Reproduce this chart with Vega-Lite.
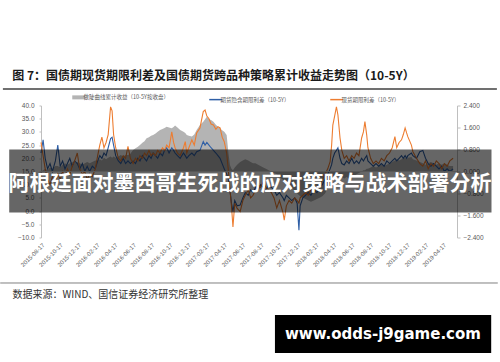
{
  "$schema": "https://vega.github.io/schema/vega-lite/v6.json",
  "width": 416,
  "height": 132,
  "autosize": {"type": "none"},
  "padding": {"left": 41, "top": 105.5, "right": 43, "bottom": 124.5},
  "background": "#ffffff",
  "config": {
    "view": {"stroke": null},
    "axis": {"labelFont": "Liberation Sans", "labelColor": "#595959", "labelFontSize": 6.5, "domainColor": "#bfbfbf", "tickColor": "#bfbfbf", "grid": false, "title": null}
  },
  "data": {"values": [
    {"d":"2015-08-17","a":0.00,"b":22,"o":26},
    {"d":"2015-08-24","a":0.05,"b":27,"o":21},
    {"d":"2015-08-31","a":0.10,"b":20,"o":16},
    {"d":"2015-09-08","a":0.05,"b":16,"o":12},
    {"d":"2015-09-16","a":0.15,"b":18,"o":10},
    {"d":"2015-09-24","a":0.10,"b":15,"o":13},
    {"d":"2015-10-04","a":0.20,"b":19,"o":11},
    {"d":"2015-10-12","a":0.20,"b":25,"o":14},
    {"d":"2015-10-20","a":0.15,"b":17,"o":12},
    {"d":"2015-10-28","a":0.25,"b":19,"o":15},
    {"d":"2015-11-05","a":0.30,"b":16,"o":13},
    {"d":"2015-11-13","a":0.25,"b":18,"o":16},
    {"d":"2015-11-21","a":0.30,"b":20,"o":14},
    {"d":"2015-11-29","a":0.35,"b":17,"o":17},
    {"d":"2015-12-07","a":0.30,"b":19,"o":19},
    {"d":"2015-12-16","a":0.35,"b":18,"o":22},
    {"d":"2015-12-24","a":0.30,"b":16,"o":16},
    {"d":"2016-01-02","a":0.25,"b":18,"o":14},
    {"d":"2016-01-10","a":0.30,"b":15,"o":15},
    {"d":"2016-01-18","a":0.35,"b":17,"o":12},
    {"d":"2016-01-26","a":0.30,"b":15,"o":14},
    {"d":"2016-02-04","a":0.35,"b":17,"o":13},
    {"d":"2016-02-14","a":0.40,"b":16,"o":16},
    {"d":"2016-02-22","a":0.40,"b":19,"o":21},
    {"d":"2016-02-29","a":0.45,"b":21,"o":25},
    {"d":"2016-03-07","a":0.40,"b":20,"o":28},
    {"d":"2016-03-14","a":0.50,"b":22,"o":24},
    {"d":"2016-03-21","a":0.45,"b":21,"o":26},
    {"d":"2016-03-28","a":0.50,"b":24,"o":29},
    {"d":"2016-04-05","a":0.55,"b":27.5,"o":39.5},
    {"d":"2016-04-10","a":0.50,"b":28,"o":38},
    {"d":"2016-04-15","a":0.55,"b":25,"o":29},
    {"d":"2016-04-22","a":0.50,"b":21,"o":24},
    {"d":"2016-05-01","a":0.55,"b":19,"o":20},
    {"d":"2016-05-09","a":0.60,"b":18,"o":19},
    {"d":"2016-05-17","a":0.55,"b":20,"o":21},
    {"d":"2016-05-25","a":0.60,"b":18,"o":20},
    {"d":"2016-06-02","a":0.60,"b":19,"o":24.5},
    {"d":"2016-06-10","a":0.65,"b":18,"o":20},
    {"d":"2016-06-19","a":0.78,"b":19,"o":18},
    {"d":"2016-06-27","a":0.85,"b":18,"o":20},
    {"d":"2016-07-05","a":0.90,"b":20,"o":19},
    {"d":"2016-07-12","a":0.96,"b":19,"o":21},
    {"d":"2016-07-20","a":1.05,"b":21,"o":20},
    {"d":"2016-07-27","a":1.10,"b":20,"o":22},
    {"d":"2016-08-03","a":1.21,"b":19,"o":21},
    {"d":"2016-08-11","a":1.25,"b":21,"o":23},
    {"d":"2016-08-18","a":1.30,"b":20,"o":21},
    {"d":"2016-08-25","a":1.33,"b":22,"o":22},
    {"d":"2016-09-02","a":1.38,"b":21,"o":21},
    {"d":"2016-09-09","a":1.45,"b":20,"o":23},
    {"d":"2016-09-17","a":1.51,"b":22,"o":22},
    {"d":"2016-09-25","a":1.55,"b":21,"o":24},
    {"d":"2016-10-02","a":1.58,"b":23,"o":23},
    {"d":"2016-10-09","a":1.63,"b":24,"o":25},
    {"d":"2016-10-17","a":1.60,"b":22,"o":24},
    {"d":"2016-10-26","a":1.57,"b":24,"o":30},
    {"d":"2016-11-01","a":1.62,"b":23,"o":26},
    {"d":"2016-11-06","a":1.67,"b":22,"o":24},
    {"d":"2016-11-14","a":1.60,"b":21,"o":22},
    {"d":"2016-11-23","a":1.51,"b":20,"o":21},
    {"d":"2016-12-04","a":1.45,"b":22,"o":24},
    {"d":"2016-12-10","a":1.40,"b":21,"o":26.3},
    {"d":"2016-12-15","a":1.33,"b":20,"o":22},
    {"d":"2016-12-22","a":1.30,"b":21,"o":24},
    {"d":"2017-01-01","a":1.27,"b":22,"o":27},
    {"d":"2017-01-09","a":1.35,"b":21,"o":25},
    {"d":"2017-01-17","a":1.51,"b":22.5,"o":29.6},
    {"d":"2017-01-28","a":1.69,"b":23,"o":31.5},
    {"d":"2017-02-08","a":1.81,"b":26.3,"o":37.7},
    {"d":"2017-02-14","a":1.90,"b":25,"o":38.3},
    {"d":"2017-02-20","a":1.99,"b":26,"o":36},
    {"d":"2017-02-27","a":1.90,"b":25,"o":35},
    {"d":"2017-03-06","a":1.87,"b":24,"o":33},
    {"d":"2017-03-14","a":1.81,"b":23,"o":32.6},
    {"d":"2017-03-22","a":1.70,"b":22,"o":31},
    {"d":"2017-03-29","a":1.63,"b":21,"o":32},
    {"d":"2017-04-05","a":1.57,"b":20,"o":31.5},
    {"d":"2017-04-12","a":1.50,"b":18,"o":28},
    {"d":"2017-04-19","a":1.45,"b":16,"o":26.3},
    {"d":"2017-04-27","a":1.33,"b":14,"o":22},
    {"d":"2017-05-03","a":0.66,"b":12,"o":15},
    {"d":"2017-05-08","a":0.24,"b":8,"o":8},
    {"d":"2017-05-13","a":0.10,"b":3,"o":2},
    {"d":"2017-05-18","a":0.05,"b":-0.2,"o":-6},
    {"d":"2017-05-24","a":0.15,"b":4,"o":3},
    {"d":"2017-06-01","a":0.25,"b":2,"o":1},
    {"d":"2017-06-11","a":0.35,"b":2.3,"o":-0.2},
    {"d":"2017-06-20","a":0.40,"b":5,"o":4},
    {"d":"2017-06-28","a":0.45,"b":7,"o":6},
    {"d":"2017-07-08","a":0.40,"b":6,"o":8},
    {"d":"2017-07-16","a":0.35,"b":8,"o":5},
    {"d":"2017-07-24","a":0.30,"b":7,"o":6},
    {"d":"2017-08-01","a":0.30,"b":9,"o":8},
    {"d":"2017-08-10","a":0.25,"b":8,"o":10},
    {"d":"2017-08-18","a":0.20,"b":10,"o":9},
    {"d":"2017-08-27","a":0.15,"b":9,"o":11},
    {"d":"2017-09-05","a":0.10,"b":8,"o":9},
    {"d":"2017-09-14","a":0.05,"b":10,"o":8},
    {"d":"2017-09-23","a":0.00,"b":9,"o":7},
    {"d":"2017-10-02","a":-0.05,"b":8,"o":5},
    {"d":"2017-10-11","a":-0.10,"b":6,"o":1.2},
    {"d":"2017-10-20","a":-0.20,"b":7,"o":4},
    {"d":"2017-11-01","a":-0.30,"b":5,"o":-0.7},
    {"d":"2017-11-05","a":-0.35,"b":4,"o":-3.4},
    {"d":"2017-11-12","a":-0.40,"b":6,"o":2},
    {"d":"2017-11-21","a":-0.50,"b":5,"o":4},
    {"d":"2017-11-30","a":-0.60,"b":4,"o":3},
    {"d":"2017-12-10","a":-0.70,"b":5,"o":5},
    {"d":"2017-12-18","a":-0.80,"b":3,"o":4},
    {"d":"2017-12-24","a":-0.85,"b":-7.2,"o":3},
    {"d":"2017-12-28","a":-0.90,"b":2,"o":5},
    {"d":"2018-01-06","a":-0.95,"b":5,"o":6},
    {"d":"2018-01-15","a":-1.00,"b":6,"o":7},
    {"d":"2018-01-24","a":-1.05,"b":7,"o":6},
    {"d":"2018-02-02","a":-1.10,"b":6,"o":8},
    {"d":"2018-02-12","a":-1.05,"b":8,"o":7},
    {"d":"2018-02-22","a":-1.00,"b":7,"o":9},
    {"d":"2018-03-03","a":-0.95,"b":9,"o":10},
    {"d":"2018-03-12","a":-0.90,"b":10,"o":12},
    {"d":"2018-03-21","a":-0.80,"b":12,"o":14},
    {"d":"2018-03-30","a":-0.60,"b":14,"o":16},
    {"d":"2018-04-07","a":-0.40,"b":16,"o":18.7},
    {"d":"2018-04-12","a":-0.30,"b":17.6,"o":25},
    {"d":"2018-04-16","a":-0.20,"b":20,"o":32.6},
    {"d":"2018-04-22","a":-0.15,"b":22,"o":36},
    {"d":"2018-04-28","a":-0.10,"b":23,"o":39.5},
    {"d":"2018-05-03","a":-0.10,"b":24,"o":36.4},
    {"d":"2018-05-10","a":-0.15,"b":20,"o":27.7},
    {"d":"2018-05-16","a":-0.20,"b":18,"o":23},
    {"d":"2018-05-24","a":-0.25,"b":17.5,"o":20},
    {"d":"2018-06-01","a":-0.20,"b":19,"o":21},
    {"d":"2018-06-09","a":-0.25,"b":18,"o":19},
    {"d":"2018-06-18","a":-0.20,"b":20,"o":21},
    {"d":"2018-06-26","a":-0.15,"b":18,"o":20},
    {"d":"2018-07-04","a":-0.10,"b":19,"o":22},
    {"d":"2018-07-12","a":-0.05,"b":18,"o":21},
    {"d":"2018-07-21","a":0.00,"b":20,"o":27.7},
    {"d":"2018-07-27","a":0.05,"b":19,"o":30},
    {"d":"2018-08-01","a":0.05,"b":20,"o":33.9},
    {"d":"2018-08-07","a":0.10,"b":21,"o":28.8},
    {"d":"2018-08-11","a":0.10,"b":19,"o":24},
    {"d":"2018-08-20","a":0.15,"b":18,"o":20},
    {"d":"2018-08-29","a":0.20,"b":17,"o":18},
    {"d":"2018-09-07","a":0.15,"b":18,"o":19},
    {"d":"2018-09-16","a":0.20,"b":17,"o":18},
    {"d":"2018-09-25","a":0.25,"b":18,"o":20},
    {"d":"2018-10-04","a":0.20,"b":17,"o":19},
    {"d":"2018-10-13","a":0.25,"b":19,"o":21},
    {"d":"2018-10-22","a":0.30,"b":18,"o":22},
    {"d":"2018-10-31","a":0.35,"b":19,"o":24},
    {"d":"2018-11-09","a":0.40,"b":20,"o":28.2},
    {"d":"2018-11-15","a":0.45,"b":19,"o":24},
    {"d":"2018-11-23","a":0.40,"b":20,"o":26},
    {"d":"2018-12-01","a":0.45,"b":21,"o":27},
    {"d":"2018-12-07","a":0.50,"b":20,"o":29},
    {"d":"2018-12-13","a":0.50,"b":21,"o":31.5},
    {"d":"2018-12-18","a":0.45,"b":20,"o":29.6},
    {"d":"2018-12-22","a":0.50,"b":21,"o":28.2},
    {"d":"2019-01-03","a":0.53,"b":22,"o":25},
    {"d":"2019-01-08","a":0.45,"b":21,"o":22.5},
    {"d":"2019-01-20","a":0.40,"b":20,"o":20},
    {"d":"2019-01-31","a":0.35,"b":22.5,"o":18},
    {"d":"2019-02-10","a":0.30,"b":23,"o":17},
    {"d":"2019-02-19","a":0.25,"b":20,"o":19},
    {"d":"2019-02-28","a":0.30,"b":18,"o":16},
    {"d":"2019-03-09","a":0.35,"b":17,"o":18},
    {"d":"2019-03-18","a":0.30,"b":18,"o":17},
    {"d":"2019-03-27","a":0.25,"b":17,"o":19},
    {"d":"2019-04-05","a":0.30,"b":16,"o":18},
    {"d":"2019-04-14","a":0.25,"b":17,"o":16},
    {"d":"2019-04-23","a":0.30,"b":15,"o":18},
    {"d":"2019-05-02","a":0.25,"b":16,"o":17},
    {"d":"2019-05-11","a":0.20,"b":15,"o":19},
    {"d":"2019-05-22","a":0.20,"b":16,"o":20}
  ]},
  "layer": [
    {"mark": {"type": "area", "color": "#b4b4b4", "opacity": 1},
     "encoding": {
       "x": {"field": "d", "type": "temporal", "axis": null,
             "scale": {"type": "utc", "domain": [{"year": 2015, "month": 8, "date": 17, "utc": true}, {"year": 2019, "month": 6, "date": 4, "utc": true}]}},
       "y": {"field": "a", "type": "quantitative",
             "scale": {"domain": [-2.4, 2.4], "nice": false, "zero": false},
             "axis": {"orient": "right", "values": [-2.4, -1.6, -0.8, 0, 0.8, 1.6, 2.4], "format": ".3f", "tickSize": 3, "labelPadding": 3, "labelOverlap": false}},
       "y2": {"datum": 0}
     }},
    {"transform": [{"fold": ["b", "o"], "as": ["s", "v"]}],
     "mark": {"type": "line", "strokeWidth": 1.1},
     "encoding": {
       "x": {"field": "d", "type": "temporal",
             "scale": {"type": "utc", "domain": [{"year": 2015, "month": 8, "date": 17, "utc": true}, {"year": 2019, "month": 6, "date": 4, "utc": true}]},
             "axis": {"orient": "bottom", "labelExpr": "utcFormat(datum.value, '%Y-%m-%d')", "labelAngle": -45, "labelFontSize": 6, "labelPadding": 4, "ticks": false, "domain": false, "labelOverlap": false, "labelFlush": false, "labelBound": false,
                      "values": [
                        {"year": 2015, "month": 8, "date": 17, "utc": true},
                        {"year": 2015, "month": 10, "date": 17, "utc": true},
                        {"year": 2015, "month": 12, "date": 17, "utc": true},
                        {"year": 2016, "month": 2, "date": 17, "utc": true},
                        {"year": 2016, "month": 4, "date": 17, "utc": true},
                        {"year": 2016, "month": 6, "date": 17, "utc": true},
                        {"year": 2016, "month": 8, "date": 17, "utc": true},
                        {"year": 2016, "month": 10, "date": 17, "utc": true},
                        {"year": 2016, "month": 12, "date": 17, "utc": true},
                        {"year": 2017, "month": 2, "date": 17, "utc": true},
                        {"year": 2017, "month": 4, "date": 17, "utc": true},
                        {"year": 2017, "month": 6, "date": 17, "utc": true},
                        {"year": 2017, "month": 8, "date": 17, "utc": true},
                        {"year": 2017, "month": 10, "date": 17, "utc": true},
                        {"year": 2017, "month": 12, "date": 17, "utc": true},
                        {"year": 2018, "month": 2, "date": 17, "utc": true},
                        {"year": 2018, "month": 4, "date": 17, "utc": true},
                        {"year": 2018, "month": 6, "date": 17, "utc": true},
                        {"year": 2018, "month": 8, "date": 17, "utc": true},
                        {"year": 2018, "month": 10, "date": 17, "utc": true},
                        {"year": 2018, "month": 12, "date": 17, "utc": true},
                        {"year": 2019, "month": 2, "date": 17, "utc": true},
                        {"year": 2019, "month": 4, "date": 17, "utc": true}
                      ]}},
       "y": {"field": "v", "type": "quantitative",
             "scale": {"domain": [-10, 40], "nice": false, "zero": false},
             "axis": {"orient": "left", "values": [-10, -5, 0, 5, 10, 15, 20, 25, 30, 35, 40], "format": ".1f", "tickSize": 2, "labelPadding": 5, "labelOverlap": false}},
       "color": {"field": "s", "type": "nominal",
                 "scale": {"domain": ["a", "b", "o"], "range": ["#b4b4b4", "#2f5fa6", "#ed7d31"]},
                 "legend": {"orient": "none", "legendX": 35, "legendY": -11, "direction": "horizontal", "title": null,
                            "symbolType": "stroke", "symbolSize": 169, "symbolStrokeWidth": 1.5,
                            "labelFontSize": 5.5, "labelFont": "Noto Sans CJK SC", "labelColor": "#595959", "labelOffset": 2, "columnPadding": 37, "labelLimit": 200,
                            "labelExpr": "datum.value == 'a' ? '做陡曲线累计收益（10-5Y按收盘）' : datum.value == 'b' ? '期货隐含期限利差（10-5Y）' : '现货期限利差（10-5Y）'",
                            "encode": {"symbols": {"update": {"strokeWidth": {"signal": "datum.value == 'a' ? 4 : 1.5"}}}}}}
     }},
    {"data": {"values": [{}]},
     "layer": [
      {"mark": {"type": "rule", "color": "#d9d9d9", "strokeWidth": 1},
       "encoding": {
         "x": {"datum": {"year": 2015, "month": 8, "date": 17, "utc": true}, "type": "temporal", "axis": null,
               "scale": {"type": "utc", "domain": [{"year": 2015, "month": 8, "date": 17, "utc": true}, {"year": 2019, "month": 6, "date": 4, "utc": true}]}},
         "x2": {"datum": {"year": 2019, "month": 6, "date": 4, "utc": true}},
         "y": {"datum": 15, "type": "quantitative", "axis": null, "scale": {"domain": [-10, 40], "nice": false, "zero": false}}}},
      {"mark": {"type": "text", "text": "图 7：国债期现货期限利差及国债期货跨品种策略累计收益走势图（10-5Y）", "font": "Noto Sans CJK SC", "fontSize": 12, "fontWeight": "bold", "color": "#1a1a1a", "align": "left", "baseline": "middle"},
       "encoding": {
         "x": {"datum": {"year": 2015, "month": 5, "date": 13, "utc": true}, "type": "temporal", "axis": null},
         "y": {"datum": 51.17, "type": "quantitative", "axis": null}}},
      {"mark": {"type": "rule", "color": "#404040", "strokeWidth": 1.5},
       "encoding": {
         "x": {"datum": {"year": 2015, "month": 4, "date": 12, "utc": true}, "type": "temporal", "axis": null},
         "x2": {"datum": {"year": 2019, "month": 10, "date": 15, "utc": true}},
         "y": {"datum": 46.25, "type": "quantitative", "axis": null}}},
      {"mark": {"type": "rule", "color": "#808080", "strokeWidth": 1},
       "encoding": {
         "x": {"datum": {"year": 2015, "month": 4, "date": 3, "utc": true}, "type": "temporal", "axis": null},
         "x2": {"datum": {"year": 2019, "month": 10, "date": 18, "utc": true}},
         "y": {"datum": -27.23, "type": "quantitative", "axis": null}}},
      {"mark": {"type": "text", "text": "数据来源：WIND、国信证券经济研究所整理", "font": "Noto Sans CJK SC", "fontSize": 10, "color": "#333333", "align": "left", "baseline": "middle"},
       "encoding": {
         "x": {"datum": {"year": 2015, "month": 5, "date": 14, "utc": true}, "type": "temporal", "axis": null},
         "y": {"datum": -31.78, "type": "quantitative", "axis": null}}},
      {"mark": {"type": "rect", "color": "#000000", "opacity": 0.6},
       "encoding": {
         "x": {"datum": {"year": 2015, "month": 5, "date": 3, "utc": true}, "type": "temporal", "axis": null},
         "x2": {"datum": {"year": 2019, "month": 9, "date": 27, "utc": true}},
         "y": {"datum": 23.33, "type": "quantitative", "axis": null},
         "y2": {"datum": -0.53}}},
      {"mark": {"type": "text", "text": "阿根廷面对墨西哥生死战的应对策略与战术部署分析", "font": "Noto Sans CJK SC", "fontSize": 21, "fontWeight": "bold", "color": "#ffffff", "align": "center", "baseline": "middle"},
       "encoding": {
         "x": {"datum": {"year": 2017, "month": 7, "date": 14, "utc": true}, "type": "temporal", "axis": null},
         "y": {"datum": 10.45, "type": "quantitative", "axis": null}}},
      {"mark": {"type": "rect", "color": "#000000", "opacity": 1},
       "encoding": {
         "x": {"datum": {"year": 2017, "month": 10, "date": 5, "utc": true}, "type": "temporal", "axis": null},
         "x2": {"datum": {"year": 2019, "month": 9, "date": 26, "utc": true}},
         "y": {"datum": -39.36, "type": "quantitative", "axis": null},
         "y2": {"datum": -53.75}}},
      {"mark": {"type": "text", "text": "www.odds-j9game.com", "font": "DejaVu Sans", "fontSize": 15, "fontWeight": "bold", "color": "#ffffff", "align": "center", "baseline": "middle"},
       "encoding": {
         "x": {"datum": {"year": 2018, "month": 9, "date": 30, "utc": true}, "type": "temporal", "axis": null},
         "y": {"datum": -46.55, "type": "quantitative", "axis": null}}}
     ]}
  ],
  "resolve": {"scale": {"x": "independent", "y": "independent"}}
}
